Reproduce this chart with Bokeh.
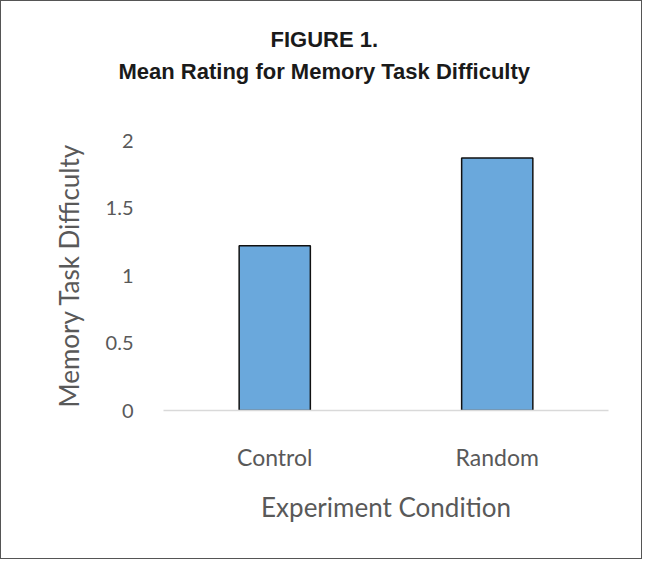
from bokeh.plotting import figure
from bokeh.models import FactorRange, Range1d, Title, FixedTicker
from bokeh.embed import file_html
from bokeh.resources import INLINE

conditions = ["Control", "Random"]
mean_difficulty = [1.22, 1.87]
y_ticks = [0, 0.5, 1, 1.5, 2]
y_tick_labels = {0: "0", 0.5: "0.5", 1: "1", 1.5: "1.5", 2: "2"}
title_main = "FIGURE 1."
title_sub = "Mean Rating for Memory Task Difficulty"

TEXT = "#595959"
AXFONT = "Lato"
TFONT = "Liberation Sans"

p = figure(
    width=642, height=559,
    x_range=FactorRange(*conditions, range_padding=0),
    y_range=Range1d(0, 2),
    output_backend="svg", toolbar_location=None,
    min_border_left=162, min_border_right=35,
    min_border_top=139, min_border_bottom=150,
)
p.title.visible = False

# spacer between title block and plot frame (closest panel)
p.add_layout(Title(text=" ", text_font_size="1px", standoff=53), "above")
p.add_layout(Title(text=title_sub, align="left", offset=-45,
                   text_font=TFONT, text_font_size="22px",
                   text_font_style="bold", text_color="#1a1a1a",
                   standoff=2), "above")
p.add_layout(Title(text=title_main, align="left", offset=107,
                   text_font=TFONT, text_font_size="22px",
                   text_font_style="bold", text_color="#1a1a1a",
                   standoff=8), "above")

p.vbar(x=conditions, top=mean_difficulty, width=0.32,
       fill_color="#6aa8dc", line_color="#111111", line_width=1.5)

p.xgrid.visible = False
p.ygrid.visible = False
p.outline_line_color = None
p.styles = {"border": "1px solid #555555"}

xa = p.xaxis[0]
xa.axis_label = "Experiment Condition"
xa.axis_line_color = "#d9d9d9"
xa.axis_line_width = 1.5
xa.major_tick_line_color = None
xa.minor_tick_line_color = None
xa.major_label_text_font = AXFONT
xa.major_label_text_font_size = "23px"
xa.major_label_text_color = TEXT
xa.major_label_standoff = 26
xa.axis_label_text_font = AXFONT
xa.axis_label_text_font_size = "26px"
xa.axis_label_text_font_style = "normal"
xa.axis_label_text_color = TEXT
xa.axis_label_standoff = 17

ya = p.yaxis[0]
ya.ticker = FixedTicker(ticks=y_ticks)
ya.major_label_overrides = y_tick_labels
ya.axis_label = "Memory Task Difficulty"
ya.axis_line_color = None
ya.major_tick_line_color = None
ya.minor_tick_line_color = None
ya.major_label_text_font = AXFONT
ya.major_label_text_font_size = "20px"
ya.major_label_text_color = TEXT
ya.major_label_standoff = 24
ya.axis_label_text_font = AXFONT
ya.axis_label_text_font_size = "26px"
ya.axis_label_text_font_style = "normal"
ya.axis_label_text_color = TEXT
ya.axis_label_standoff = 18

open("out.html", "w").write(file_html(p, INLINE))
